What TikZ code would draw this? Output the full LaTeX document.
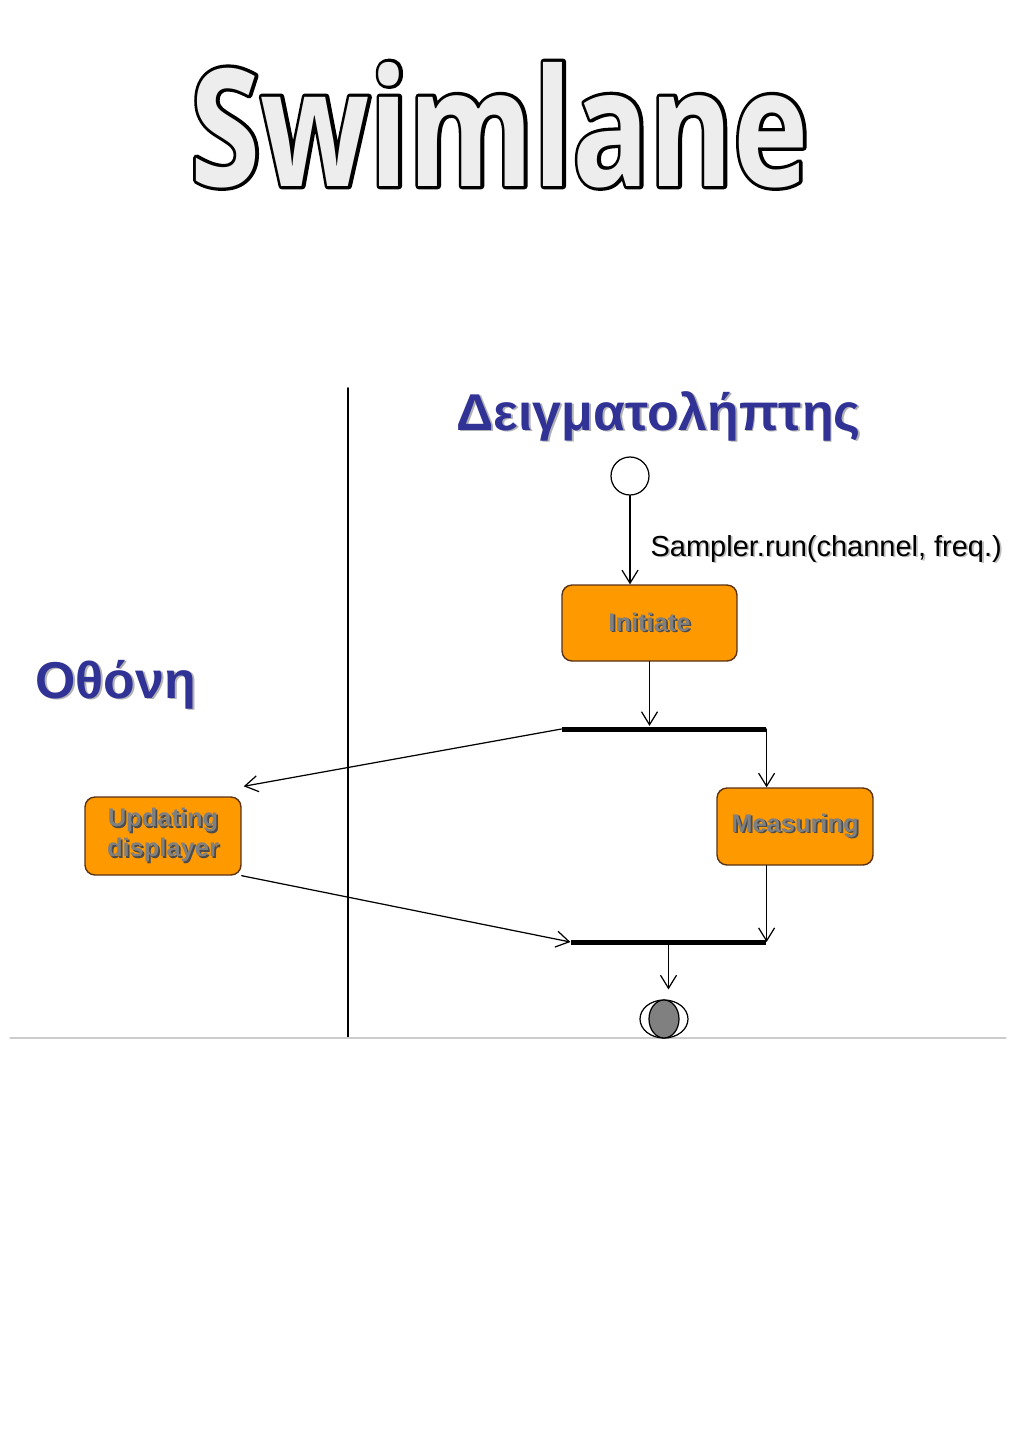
\documentclass[tikz,border=0pt]{standalone}
\usepackage{fontspec}
\setmainfont{Liberation Sans}
\newfontfamily\titlefont[FakeStretch=0.78]{Open Sans}
\newfontfamily\titleedge[FakeStretch=0.78,BoldFeatures={FakeBold=4}]{Open Sans}
\usetikzlibrary{arrows.meta,shapes.geometric}
\definecolor{laneblue}{RGB}{48,50,150}
\definecolor{actorange}{RGB}{255,153,0}
\definecolor{actedge}{RGB}{90,50,20}
\newcommand{\shtext}[2]{\rlap{\kern1pt\raisebox{-1pt}{\textcolor{#1}{#2}}}#2}
\begin{document}
\begin{tikzpicture}[x=0.02cm,y=-0.02cm,>={Straight Barb[length=2.6mm,width=3.2mm]},
	line join=round, line cap=round, line width=0.7pt,
	act/.style={draw=actedge, fill=actorange, rounded corners=0.2cm, line width=0.8pt,
		minimum width=3.12cm, minimum height=1.54cm, align=center,
		font=\fontsize{14.5}{17}\selectfont\bfseries, text=black!50},
	bar/.style={fill=black, inner sep=0pt, minimum height=0.1cm},
	lanehead/.style={anchor=base west, font=\fontsize{29.5}{32}\selectfont\bfseries, text=laneblue}]
	\useasboundingbox (0,0) rectangle (1024,1448);
	\def\laneX{348} \def\laneTop{388} \def\laneBot{1038} % lanes
	
	\node[anchor=base west, inner sep=0pt, text=black, font=\fontsize{93}{100}\titleedge\bfseries] (titleback) at (190,186) {Swimlane};
	\node[anchor=base west, inner sep=0pt, text=black!7, font=\fontsize{93}{100}\titlefont\bfseries] (title) at (190,186) {Swimlane};
	
	\draw[line width=1.1pt] (\laneX,\laneTop)--(\laneX,\laneBot);
	\draw[black!20] (10,\laneBot)--(1006,\laneBot);
	\node[lanehead, inner sep=0pt] (sampler) at (456,430) {\shtext{black!30}{Δειγματολήπτης}};
	\node[lanehead, inner sep=0pt] (screen) at (35,698) {\shtext{black!30}{Οθόνη}};
	
	\node[draw, circle, minimum size=0.76cm, inner sep=0pt] (start) at (630,476) {};
	\node[act, minimum width=3.5cm, minimum height=1.52cm] (init) at (649.5,623) {\shtext{black!70}{Initiate}};
	\node[bar, minimum width=4.08cm] (fork) at (664,729) {};
	\node[act, minimum height=1.56cm] (upd) at (163,836) {\shtext{black!70}{Updating}\\\shtext{black!70}{displayer}};
	\node[act] (meas) at (795,826.5) {\raisebox{-2pt}{\shtext{black!70}{Measuring}}};
	\node[bar, minimum width=3.9cm] (join) at (668.5,942) {};
	\node[draw, ellipse, minimum width=0.96cm, minimum height=0.76cm, inner sep=0pt] (finish) at (664,1019) {};
	\node[draw, ellipse, fill=black!50, minimum width=0.6cm, minimum height=0.76cm, inner sep=0pt] (core) at (664,1019) {};
	\node[anchor=base west, inner sep=0pt, font=\fontsize{16.5}{18}\selectfont] (call) at (650,556) {\shtext{black!25}{Sampler.run(channel, freq.)}};
	
	\draw[->] (start.south)--(start.south |- init.north);
	\draw[->] (init.south)--(init.south |- fork.north);
	\draw[->] (fork.west)--([shift={(2,-10)}]upd.north east);
	\draw[->] (fork.east)--(fork.east |- meas.north);
	\draw[->] (upd.south east)--(join.west);
	\draw[->] (meas.south -| join.east)--(join.east);
	\draw[->, shorten >=0.2cm] (join.south)--(join.south |- finish.north);
\end{tikzpicture}
\end{document}
